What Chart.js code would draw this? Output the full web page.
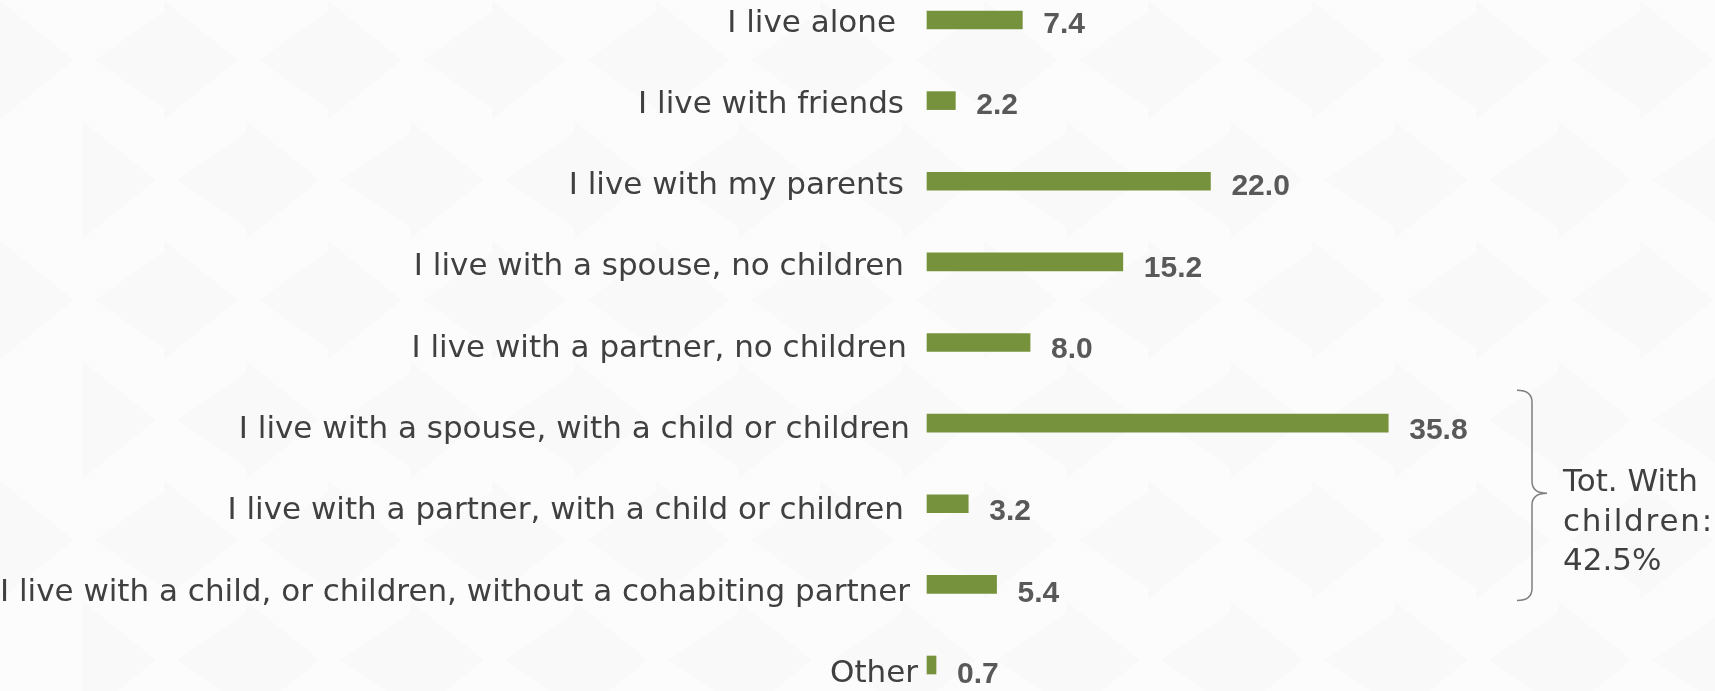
<!DOCTYPE html>
<html>
<head>
<meta charset="utf-8">
<title>Living arrangements</title>
<script src="https://cdn.jsdelivr.net/npm/chart.js@4/dist/chart.umd.min.js"></script>
<style>
  html, body { margin: 0; padding: 0; background: #fcfcfc; }
  #wrap { width: 1715px; height: 691px; position: relative; }
</style>
</head>
<body>
<div id="wrap"><canvas id="c"></canvas></div>
<script>
const categories = [
  'I live alone',
  'I live with friends',
  'I live with my parents',
  'I live with a spouse, no children',
  'I live with a partner, no children',
  'I live with a spouse, with a child or children',
  'I live with a partner, with a child or children',
  'I live with a child, or children, without a cohabiting partner',
  'Other'
];
const shares = [7.4, 2.2, 22.0, 15.2, 8.0, 35.8, 3.2, 5.4, 0.7];
const noteLines = ['Tot. With', 'children:', '42.5%'];
const noteRows = [5, 7]; // first and last row covered by the brace

const GREEN = '#77923c';
const TEXT = '#404040';
const VALUE = '#595959';

// faint triangle watermark behind everything
const backdrop = {
  id: 'backdrop',
  beforeDraw(chart){
    const {ctx, width, height} = chart;
    ctx.save();
    ctx.fillStyle = '#fcfcfc';
    ctx.fillRect(0, 0, width, height);
    ctx.fillStyle = 'rgba(0,0,0,0.011)';
    const w = 82, h = 120;
    for(let r = 0; r * h < height + h; r++){
      for(let c = 0; c * w * 2 < width + w * 2; c++){
        const x = c * w * 2 + (r % 2 ? w : 0), y = r * h;
        ctx.beginPath();
        ctx.moveTo(x, y); ctx.lineTo(x + w * 0.9, y + h / 2); ctx.lineTo(x, y + h); ctx.closePath();
        ctx.fill();
        ctx.beginPath();
        ctx.moveTo(x + w * 2, y + h * 0.1); ctx.lineTo(x + w * 1.15, y + h / 2); ctx.lineTo(x + w * 2, y + h * 0.9); ctx.closePath();
        ctx.fill();
      }
    }
    ctx.restore();
  }
};

// category names on the left, values after the bars, brace + note on the right
const annotate = {
  id: 'annotate',
  afterDatasetsDraw(chart, args, opts){
    const {ctx, scales:{x, y}} = chart;
    const values = chart.data.datasets[0].data;
    ctx.save();
    chart.data.labels.forEach((lab, i) => {
      const cy = y.getPixelForValue(i);
      ctx.font = '31px "DejaVu Sans", Verdana, sans-serif';
      ctx.fillStyle = TEXT;
      ctx.textAlign = 'right';
      ctx.textBaseline = 'alphabetic';
      ctx.fillText(lab, x.left - 21 + (opts.nudge[i] || 0), cy + 11.5 + 0.7 * i);
      ctx.font = 'bold 30px "Liberation Sans", Arial, sans-serif';
      ctx.fillStyle = VALUE;
      ctx.textAlign = 'left';
      ctx.fillText(values[i].toFixed(1), x.getPixelForValue(values[i]) + 21, cy + 13 + 0.6 * i);
    });

    // right brace spanning the rows with children
    const top = y.getPixelForValue(noteRows[0]) - 33;
    const bot = y.getPixelForValue(noteRows[1]) + 16;
    const mid = (top + bot) / 2 - 2;
    const bx = x.right - 168, r = 12;
    ctx.strokeStyle = '#7f7f7f';
    ctx.lineWidth = 1.5;
    ctx.beginPath();
    ctx.moveTo(bx - 15, top);
    ctx.quadraticCurveTo(bx, top, bx, top + r);
    ctx.lineTo(bx, mid - r);
    ctx.quadraticCurveTo(bx, mid, bx + 15, mid);
    ctx.quadraticCurveTo(bx, mid, bx, mid + r);
    ctx.lineTo(bx, bot - r);
    ctx.quadraticCurveTo(bx, bot, bx - 15, bot);
    ctx.stroke();

    ctx.font = '31px "DejaVu Sans", Verdana, sans-serif';
    ctx.fillStyle = TEXT;
    ctx.textAlign = 'left';
    noteLines.forEach((t, k) => {
      ctx.letterSpacing = k === 1 ? '1.8px' : '0px';
      ctx.fillText(t, bx + 31, mid - 2 + k * 39.5);
    });
    ctx.restore();
  }
};

new Chart(document.getElementById('c'), {
  type: 'bar',
  data: {
    labels: categories,
    datasets: [{ data: shares, backgroundColor: GREEN, barThickness: 18, borderWidth: 0, clip: false }]
  },
  options: {
    indexAxis: 'y',
    responsive: true,
    maintainAspectRatio: false,
    animation: false,
    layout: { padding: { left: 927, right: 15, top: 20, bottom: 26 } },
    scales: {
      x: { display: false, min: 0, max: 60 },
      y: { display: false, offset: false, grid: { offset: false } }
    },
    plugins: {
      legend: { display: false },
      tooltip: { enabled: false },
      annotate: { nudge: [-10, -2, -2, -2, 1, 4, -2, 4, 12] }
    }
  },
  plugins: [backdrop, annotate]
});
</script>
</body>
</html>
